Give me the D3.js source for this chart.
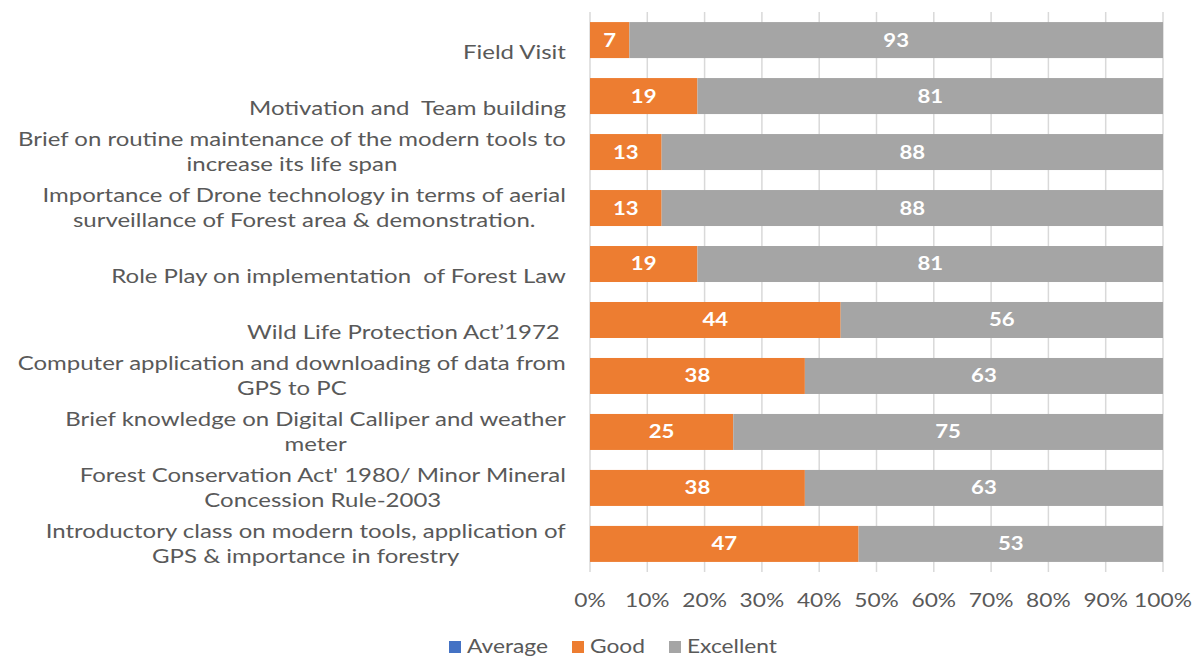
<!DOCTYPE html>
<html><head><meta charset="utf-8">
<script src="https://cdn.jsdelivr.net/npm/d3@7"></script>
<style>body{margin:0;background:#fff;} text{font-family:Lato, "Open Sans", sans-serif; white-space:pre;}</style>
</head><body>
<svg id="c" width="1193" height="658"></svg>
<script>
const categories = [
  "Field Visit",
  "Motivation and  Team building",
  "Brief on routine maintenance of the modern tools to\nincrease its life span",
  "Importance of Drone technology in terms of aerial\nsurveillance of Forest area & demonstration.",
  "Role Play on implementation  of Forest Law",
  "Wild Life Protection Act\u20191972 ",
  "Computer application and downloading of data from\nGPS to PC",
  "Brief knowledge on Digital Calliper and weather\nmeter",
  "Forest Conservation Act' 1980/ Minor Mineral\nConcession Rule-2003",
  "Introductory class on modern tools, application of\nGPS & importance in forestry"
];
const average   = [0, 0, 0, 0, 0, 0, 0, 0, 0, 0];
const good      = [6.875, 18.75, 12.5, 12.5, 18.75, 43.75, 37.5, 25, 37.5, 46.875];
const excellent = [93.125, 81.25, 87.5, 87.5, 81.25, 56.25, 62.5, 75, 62.5, 53.125];
const seriesNames = ["Average", "Good", "Excellent"];
const tickValues = [0, 0.1, 0.2, 0.3, 0.4, 0.5, 0.6, 0.7, 0.8, 0.9, 1];
const colors = ["#4472C4", "#ED7D31", "#A5A5A5"];

(function () {
const SX = 1.23;
const svg = d3.select("#c");
const pl = 590, pr = 1163, pt = 12, pb = 572;
const x = d3.scaleLinear().domain([0, 1]).range([pl, pr]);
const y = d3.scaleBand().domain(categories).range([pt, pb]).paddingInner(0.357).paddingOuter(0.18);

const rows = categories.map((c, i) => ({cat: c, Average: average[i], Good: good[i], Excellent: excellent[i]}));
const stack = d3.stack().keys(seriesNames).offset(d3.stackOffsetExpand);
const stacked = stack(rows);

function stretchAt(ax) { return `translate(${ax},0) scale(${SX},1) translate(${-ax},0)`; }

svg.append("g").selectAll("line").data(tickValues).join("line")
  .attr("x1", d => x(d)).attr("x2", d => x(d))
  .attr("y1", pt).attr("y2", pb)
  .attr("stroke", "#d9d9d9").attr("stroke-width", 1.5);

const g = svg.append("g");
stacked.forEach((s, si) => {
  g.append("g").selectAll("rect").data(s).join("rect")
    .attr("x", d => x(d[0])).attr("width", d => x(d[1]) - x(d[0]))
    .attr("y", d => y(d.data.cat)).attr("height", y.bandwidth())
    .attr("fill", colors[si]);
  if (si > 0) {
    g.append("g").selectAll("text").data(s).join("text")
      .attr("x", d => (x(d[0]) + x(d[1])) / 2)
      .attr("y", d => y(d.data.cat) + y.bandwidth() / 2)
      .attr("dy", "0.36em")
      .attr("text-anchor", "middle")
      .attr("transform", d => stretchAt((x(d[0]) + x(d[1])) / 2))
      .attr("fill", "#fff").attr("font-weight", "bold").attr("font-size", 18)
      .text(d => (d.data[s.key]).toFixed(0));
  }
});

const lab = svg.append("g");
categories.forEach(c => {
  const lines = c.split("\n");
  const cy = y(c) + y.bandwidth() / 2;
  const t = lab.append("text").attr("fill", "#595959").attr("font-size", 19.5)
    .attr("text-anchor", "middle");
  const lh = 25;
  if (lines.length === 1) {
    t.append("tspan").attr("x", 0).attr("y", cy + 12).attr("dy", "0.35em").text(lines[0]);
  } else {
    lines.forEach((ln, k) => {
      t.append("tspan").attr("x", 0).attr("y", cy - lh / 2 + k * lh).attr("dy", "0.35em").text(ln);
    });
  }
  const w = t.node().getBBox().width * SX;
  t.attr("transform", `translate(${566 - w / 2},0) scale(${SX},1)`);
});

svg.append("g").selectAll("text").data(tickValues).join("text")
  .attr("x", d => x(d)).attr("y", 601).attr("dy", "0.35em")
  .attr("text-anchor", "middle").attr("fill", "#595959").attr("font-size", 18.5)
  .attr("transform", d => stretchAt(x(d)))
  .text(d => d3.format(".0%")(d));

const legX = [449, 572, 669];
const leg = svg.append("g");
seriesNames.forEach((n, i) => {
  leg.append("rect").attr("x", legX[i]).attr("y", 641).attr("width", 12).attr("height", 12).attr("fill", colors[i]);
  leg.append("text").attr("x", legX[i] + 18).attr("y", 647).attr("dy", "0.35em")
    .attr("transform", stretchAt(legX[i] + 18))
    .attr("fill", "#595959").attr("font-size", 18.5).text(n);
});
})();
</script>
</body></html>
